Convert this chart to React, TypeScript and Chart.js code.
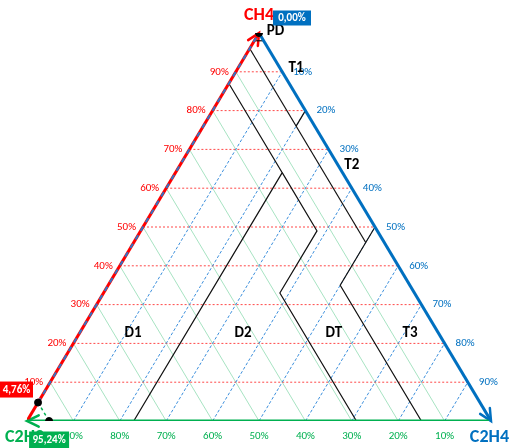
import React, { useEffect, useRef } from "react";
import { Chart, registerables } from "chart.js";

Chart.register(...registerables);

// Grid percentages on each of the three axes
const gridTicks: number[] = [10, 20, 30, 40, 50, 60, 70, 80, 90];
const tickLabels: string[] = ["10%", "20%", "30%", "40%", "50%", "60%", "70%", "80%", "90%"];

// Zone boundaries, points as [CH4, C2H4, C2H2] in %
const boundaryD1D2: number[][] = [[0, 23, 77], [64, 23, 13], [87, 0, 13]];
const boundaryD2DT: number[][] = [[0, 71, 29], [33, 38, 29], [49, 38, 13], [64, 23, 13]];
const boundaryDTT3: number[][] = [[0, 85, 15], [35, 50, 15], [50, 50, 0]];
const boundaryT2Low: number[][] = [[46, 50, 4], [96, 0, 4]];
const boundaryT1T2: number[][] = [[76, 20, 4], [80, 20, 0]];
const boundaryPD: number[][] = [[98, 2, 0], [98, 0, 2]];

// Zone names and their label anchor positions [CH4, C2H4]
const zoneNames: string[] = ["PD", "T1", "T2", "D1", "D2", "DT", "T3"];
const zoneAnchors: number[][] = [
  [100.5, 3.3],
  [91, 12.5],
  [66, 37],
  [22.7, 11.5],
  [22.7, 35.2],
  [22.7, 54.8],
  [22.7, 71.2],
];

// Sample gas composition (%)
const sampleCH4 = 4.76;
const sampleC2H4 = 0.0;
const sampleC2H2 = 95.24;

const RED = "#ff0000";
const BLUE = "#0070c0";
const GREEN = "#00b050";
const FONT = "Carlito, 'Liberation Sans', Arial, sans-serif";

const toXY = (ch4: number, c2h4: number) => ({ x: c2h4 + ch4 / 2, y: ch4 });

function lineDs(pts: { x: number; y: number }[], color: string, width: number, dash: number[], order: number) {
  return {
    data: pts,
    showLine: true,
    borderColor: color,
    borderWidth: width,
    borderDash: dash,
    pointRadius: 0,
    fill: false,
    order,
    tension: 0,
  };
}

function fmt(v: number) {
  return v.toFixed(2).replace(".", ",") + "%";
}

const pix = (chart: any) => {
  const sx = chart.scales.x;
  const sy = chart.scales.y;
  return (a: number, b: number) => [sx.getPixelForValue(b + a / 2), sy.getPixelForValue(a)];
};

const arrowPlugin = {
  id: "duvalArrows",
  beforeDatasetsDraw(chart: any) {
    const { ctx } = chart;
    const P = pix(chart);
    ctx.save();
    const arrow = (from: number[], to: number[], color: string) => {
      const ang = Math.atan2(to[1] - from[1], to[0] - from[0]);
      const len = 13;
      const spread = 0.45;
      ctx.strokeStyle = color;
      ctx.lineWidth = 2.5;
      ctx.setLineDash([]);
      ctx.lineCap = "round";
      ctx.beginPath();
      ctx.moveTo(to[0] - len * Math.cos(ang - spread), to[1] - len * Math.sin(ang - spread));
      ctx.lineTo(to[0], to[1]);
      ctx.lineTo(to[0] - len * Math.cos(ang + spread), to[1] - len * Math.sin(ang + spread));
      ctx.stroke();
    };
    arrow(P(50, 50), P(0, 100), BLUE);
    arrow(P(0, 50), P(0, 0), GREEN);
    arrow(P(50, 0), P(100, 0), RED);
    ctx.restore();
  },
};

const labelPlugin = {
  id: "duvalLabels",
  afterDatasetsDraw(chart: any) {
    const { ctx } = chart;
    const P = pix(chart);
    ctx.save();

    // tick labels
    ctx.font = `11px ${FONT}`;
    ctx.textBaseline = "middle";
    gridTicks.forEach((t, i) => {
      const l = P(t, 0);
      ctx.fillStyle = RED;
      ctx.textAlign = "right";
      ctx.fillText(tickLabels[i], l[0] - 7, l[1]);
      const r = P(100 - t, t);
      ctx.fillStyle = BLUE;
      ctx.textAlign = "left";
      ctx.fillText(tickLabels[i], r[0] + 11, r[1]);
      const b = P(0, 100 - t);
      ctx.fillStyle = GREEN;
      ctx.textAlign = "center";
      ctx.fillText(tickLabels[i], b[0], b[1] + 15);
    });

    // zone names
    ctx.font = `bold 15px ${FONT}`;
    ctx.fillStyle = "#000";
    ctx.textAlign = "center";
    zoneNames.forEach((n, i) => {
      const z = zoneAnchors[i];
      const p = P(z[0], z[1]);
      ctx.fillText(n, p[0], p[1]);
    });

    // axis titles
    ctx.font = `bold 18px ${FONT}`;
    ctx.textBaseline = "alphabetic";
    const top = P(100, 0);
    ctx.fillStyle = RED;
    ctx.textAlign = "center";
    ctx.fillText("CH4", top[0], top[1] - 13);
    const br = P(0, 100);
    ctx.fillStyle = BLUE;
    ctx.textAlign = "right";
    ctx.fillText("C2H4", br[0] + 18, br[1] + 21);
    const bl = P(0, 0);
    ctx.fillStyle = GREEN;
    ctx.textAlign = "left";
    ctx.fillText("C2H2", bl[0] - 22, bl[1] + 21);

    // value boxes
    const box = (text: string, x: number, yc: number, w: number, h: number, color: string) => {
      ctx.fillStyle = color;
      ctx.fillRect(x, yc - h / 2, w, h);
      ctx.fillStyle = "#fff";
      ctx.font = `bold 11px ${FONT}`;
      ctx.textAlign = "center";
      ctx.textBaseline = "middle";
      ctx.fillText(text, x + w / 2, yc + 0.5);
    };
    const pRed = P(sampleCH4, 0);
    box(fmt(sampleCH4), 0, pRed[1] - 13, 33, 16, RED);
    const pBlue = P(100 - sampleC2H4, sampleC2H4);
    box(fmt(sampleC2H4), pBlue[0] + 14, pBlue[1] - 15, 38, 15, BLUE);
    const pGreen = P(0, 100 - sampleC2H2);
    box(fmt(sampleC2H2), pGreen[0] - 20, pGreen[1] + 19, 40, 17, GREEN);

    ctx.restore();
  },
};

export default function App() {
  const ref = useRef<HTMLCanvasElement | null>(null);
  useEffect(() => {
    if (!ref.current) return;
    const datasets: any[] = [];
    gridTicks.forEach((t) => {
      datasets.push(lineDs([toXY(t, 0), toXY(t, 100 - t)], "rgba(255,40,40,0.85)", 1, [2, 2], 9));
    });
    gridTicks.forEach((t) => {
      datasets.push(lineDs([toXY(0, 100 - t), toXY(100 - t, 0)], "rgba(0,176,80,0.35)", 1, [], 10));
    });
    gridTicks.forEach((t) => {
      datasets.push(lineDs([toXY(0, t), toXY(100 - t, t)], "#3c8fdc", 1, [3, 2], 8));
    });
    [boundaryD1D2, boundaryD2DT, boundaryDTT3, boundaryT2Low, boundaryT1T2, boundaryPD].forEach((b) => {
      datasets.push(lineDs(b.map((p) => toXY(p[0], p[1])), "#111", 1.2, [], 7));
    });
    // triangle edges
    datasets.push(lineDs([toXY(100, 0), toXY(0, 100)], BLUE, 3, [], 5));
    datasets.push(lineDs([toXY(0, 100), toXY(0, 0)], GREEN, 3, [], 5));
    datasets.push(lineDs([toXY(0, 0), toXY(100, 0)], RED, 3, [], 5));
    // sample projection lines
    datasets.push(lineDs([toXY(sampleCH4, sampleC2H4), toXY(100 - sampleC2H4, sampleC2H4)], "#2e75c6", 2, [5, 5], 4));
    datasets.push(lineDs([toXY(sampleCH4, sampleC2H4), toXY(0, 100 - sampleC2H2)], GREEN, 1.5, [3, 3], 4));
    // sample points
    datasets.push({
      data: [toXY(sampleCH4, sampleC2H4), toXY(0, 100 - sampleC2H2), toXY(100 - sampleC2H4, sampleC2H4)],
      showLine: false,
      pointRadius: 3.5,
      pointBackgroundColor: "#000",
      pointBorderColor: "#000",
      order: 1,
    });

    const chart = new Chart(ref.current, {
      type: "scatter",
      data: { datasets },
      options: {
        animation: false,
        responsive: false,
        devicePixelRatio: 1,
        layout: { padding: { left: 27, right: 19, top: 33, bottom: 27 } },
        plugins: { legend: { display: false }, tooltip: { enabled: false } },
        scales: {
          x: { type: "linear", min: 0, max: 100, display: false },
          y: { type: "linear", min: 0, max: 100, display: false },
        },
        elements: { line: { borderCapStyle: "butt" } },
      },
      plugins: [arrowPlugin, labelPlugin],
    });
    return () => chart.destroy();
  }, []);
  return (
    <div style={{ position: "absolute", left: 0, top: 0, width: 510, height: 448, background: "#fff" }}>
      <canvas ref={ref} width={510} height={448} style={{ display: "block" }} />
    </div>
  );
}
